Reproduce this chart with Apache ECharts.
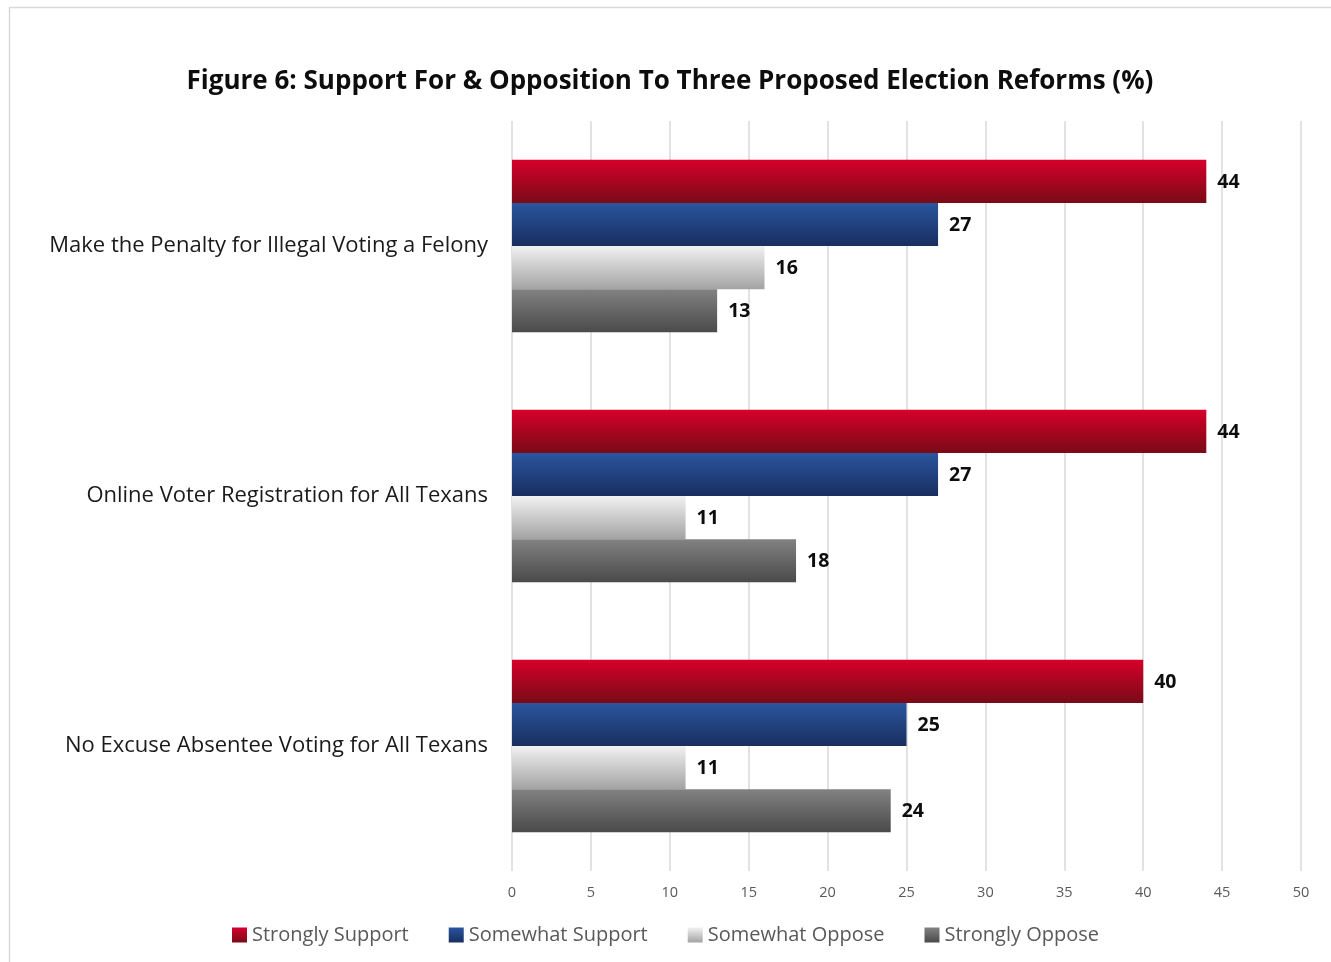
<!DOCTYPE html>
<html><head><meta charset="utf-8">
<script src="https://cdn.jsdelivr.net/npm/echarts@6/dist/echarts.min.js"></script>
<style>html,body{margin:0;padding:0;background:#fff}#c{width:1331px;height:962px}</style>
</head><body><div id="c"></div>
<script>
const categories = ["Make the Penalty for Illegal Voting a Felony", "Online Voter Registration for All Texans", "No Excuse Absentee Voting for All Texans"];
const seriesNames = ["Strongly Support", "Somewhat Support", "Somewhat Oppose", "Strongly Oppose"];
const stronglySupport = [44, 44, 40];
const somewhatSupport = [27, 27, 25];
const somewhatOppose = [16, 11, 11];
const stronglyOppose = [13, 18, 24];
const xTicks = {min: 0, max: 50, interval: 5};

const FONT = '"Open Sans", "Noto Sans", sans-serif';
const grad = (a, b) => new echarts.graphic.LinearGradient(0, 0, 0, 1, [{offset: 0, color: a}, {offset: 1, color: b}]);
const colors = [grad('#d6002b', '#7a0b16'), grad('#2a559e', '#192e60'), grad('#f2f2f2', '#a3a3a3'), grad('#828282', '#4a4a4a')];
const values = [stronglySupport, somewhatSupport, somewhatOppose, stronglyOppose];

const chart = echarts.init(document.getElementById('c'), null, {renderer: 'canvas'});
chart.setOption({
  backgroundColor: '#fff',
  animation: false,
  graphic: [{type: 'rect', left: 7, top: 5, shape: {width: 1400, height: 1000}, style: {fill: 'none', stroke: '#d9d9d9', lineWidth: 1.5}, z: -10}],
  title: {text: 'Figure 6: Support For & Opposition To Three Proposed Election Reforms (%)', left: 665, textAlign: 'center', top: 64,
    textStyle: {fontFamily: FONT, fontWeight: 'bold', fontSize: 26, color: '#0d0d0d'}},
  grid: {left: 512, right: 30, top: 121, bottom: 91, containLabel: false},
  xAxis: {type: 'value', min: xTicks.min, max: xTicks.max, interval: xTicks.interval,
    axisLine: {show: false}, axisTick: {show: false},
    splitLine: {lineStyle: {color: '#d9d9d9', width: 1.5}},
    axisLabel: {fontFamily: FONT, fontSize: 14.5, color: '#595959', margin: 14}},
  yAxis: {type: 'category', data: categories, inverse: true,
    axisLine: {show: false}, axisTick: {show: false},
    axisLabel: {fontFamily: FONT, fontSize: 22, color: '#1a1a1a', margin: 24}},
  legend: {bottom: 12, left: 'center', itemWidth: 15, itemHeight: 15, itemGap: 40, itemStyle: {borderWidth: 0}, icon: 'rect',
    textStyle: {fontFamily: FONT, fontSize: 20, color: '#595959'}},
  series: seriesNames.map((n, i) => ({
    name: n, type: 'bar', data: values[i], barGap: '0%', barCategoryGap: '31%',
    itemStyle: {color: colors[i]},
    label: {show: true, position: 'right', distance: 11, offset: [0, 1], fontFamily: FONT, fontWeight: 'bold', fontSize: 19.5, color: '#0d0d0d'}
  }))
});
</script></body></html>
